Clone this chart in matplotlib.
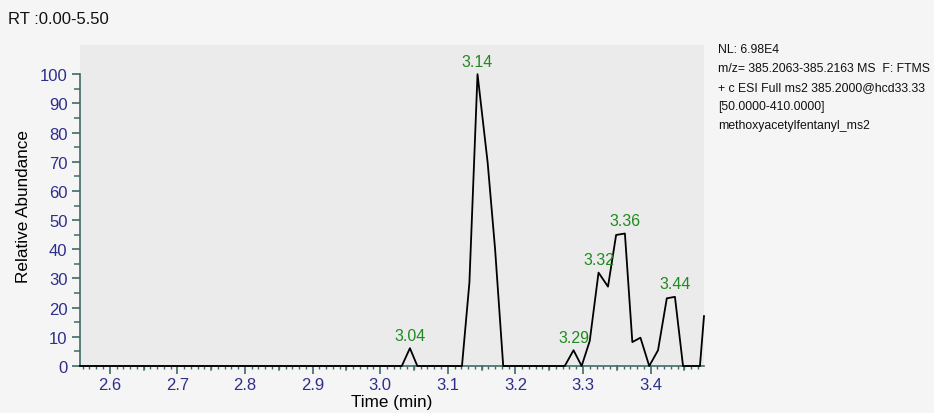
import matplotlib
matplotlib.use("Agg")
import matplotlib.pyplot as plt
from matplotlib.ticker import MultipleLocator, FixedLocator

plt.rcParams['font.family'] = ['Liberation Sans', 'DejaVu Sans']

# Chromatogram trace (time in min, relative abundance in %)
times = [2.556, 3.032, 3.044, 3.055, 3.121, 3.132, 3.144, 3.159, 3.170, 3.182,
         3.273, 3.286, 3.298, 3.310, 3.323, 3.337, 3.349, 3.362, 3.373, 3.385,
         3.398, 3.411, 3.424, 3.436, 3.448, 3.473, 3.479]
abund = [0, 0, 6.1, 0, 0, 28.6, 100, 69.7, 40.0, 0,
         0, 5.4, 0, 8.6, 32.0, 27.2, 44.9, 45.4, 8.2, 9.7,
         0, 5.4, 23.2, 23.7, 0, 0, 17.1]

# Peak labels
peak_labels = ["3.04", "3.14", "3.29", "3.32", "3.36", "3.44"]
peak_t = [3.044, 3.144, 3.286, 3.323, 3.362, 3.436]
peak_y = [6.1, 100, 5.4, 32.0, 45.4, 23.7]

header = "RT :0.00-5.50"
info_lines = ["NL: 6.98E4",
              "m/z= 385.2063-385.2163 MS  F: FTMS",
              "+ c ESI Full ms2 385.2000@hcd33.33",
              "[50.0000-410.0000]",
              "methoxyacetylfentanyl_ms2"]

fig = plt.figure(figsize=(9.34, 4.14), dpi=100, facecolor='#f5f5f5')
ax = fig.add_axes([80/934, 1-367/414, (704-80)/934, (367-46)/414])
ax.set_facecolor('#ebebeb')

ax.plot(times, abund, color='black', lw=1.3, clip_on=False, zorder=3)

ax.set_xlim(2.556, 3.479)
ax.set_ylim(0, 110)

axis_col = '#3d6b66'
tick_col = '#2e2e8c'
for s in ['top', 'right']:
    ax.spines[s].set_visible(False)
for s in ['left', 'bottom']:
    ax.spines[s].set_color(axis_col)
    ax.spines[s].set_linewidth(1.2)
ax.spines['left'].set_bounds(0, 100)

ax.set_yticks(range(0, 101, 10))
ax.yaxis.set_minor_locator(FixedLocator(list(range(5, 100, 10))))
ax.xaxis.set_major_locator(MultipleLocator(0.1))
ax.xaxis.set_minor_locator(MultipleLocator(0.01))
ax.xaxis.set_major_formatter(matplotlib.ticker.FormatStrFormatter('%.1f'))
ax.tick_params(axis='both', which='major', colors=axis_col, labelcolor=tick_col,
               labelsize=12, length=6, width=1.2)
ax.tick_params(axis='y', which='minor', colors=axis_col, length=4, width=1.1)
ax.tick_params(axis='x', which='minor', colors=axis_col, length=2.5, width=1.0)
ax.tick_params(axis='x', which='major', pad=2)
ax.tick_params(axis='y', which='major', pad=3)
# medium ticks at half-decades on x
for t in [2.65, 2.75, 2.85, 2.95, 3.05, 3.15, 3.25, 3.35, 3.45]:
    ax.plot([t, t], [0, -0.013], transform=ax.get_xaxis_transform(),
            color=axis_col, lw=1.1, clip_on=False)

ax.set_xlabel('Time (min)', fontsize=12.3, labelpad=1)
ax.set_ylabel('Relative Abundance', fontsize=12.3, labelpad=6)

for lab, t, y in zip(peak_labels, peak_t, peak_y):
    ax.annotate(lab, (t, y), xytext=(0, 4), textcoords='offset points',
                ha='center', va='bottom', color='#1f8a1f', fontsize=11.5)

fig.text(8/934, 1-20/414, header, fontsize=12, va='center', ha='left', color='#111111')
for i, line in enumerate(info_lines):
    fig.text(718/934, 1-(50 + 19*i)/414, line, fontsize=8.8, va='center', ha='left',
             color='#111111')

fig.savefig('out.png', dpi=100, facecolor=fig.get_facecolor())
